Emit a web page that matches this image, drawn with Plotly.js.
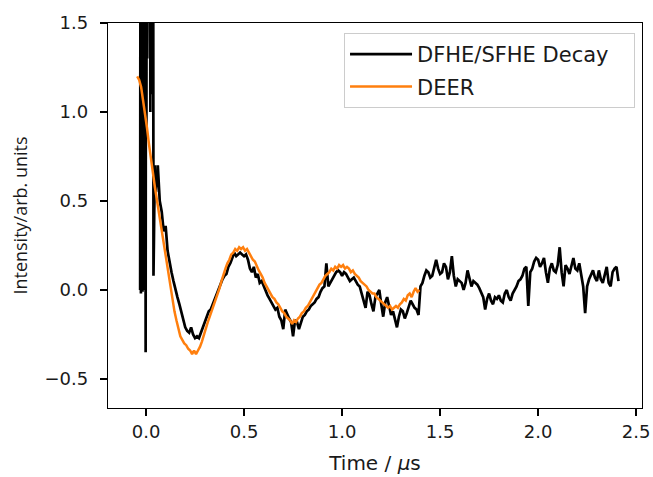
<!DOCTYPE html>
<html>
<head>
<meta charset="utf-8">
<script src="https://cdn.plot.ly/plotly-3.0.1.min.js"></script>
<style>
  html, body { margin: 0; padding: 0; background: #fff; }
  #chart { width: 653px; height: 477px; }
</style>
</head>
<body>
<div id="chart"></div>
<script>
// Echo decay around the pulse overlap, sampled every 0.002 us from -0.03 us
const burstStart = -0.03;
const burstStep = 0.002;
const burstValues = [
  0.00, 3.0, -0.02, 2.8, 0.2, 3.1, -0.01, 2.9, 0.1, 3.0,
  0.00, 2.7, 0.4, 3.2, -0.35, 2.9, 0.9, 3.1, 1.3, 3.3,
  2.6, 3.4, 3.5, 3.6, 3.4, 3.3, 1.0, 3.2, 1.1, 3.0,
  1.4, 3.1, 1.9, 2.8, 0.08, 0.25, 0.45, 0.62, 0.70, 0.60,
  0.55
];

// Echo decay trace, sampled every 0.01 us starting at 0.05 us
const decayStart = 0.05;
const decayStep = 0.01;
const decayValues = [
  0.55, 0.70,
  0.50, 0.44, 0.33, 0.36, 0.22, 0.15, 0.10, 0.05, 0.00, -0.04,
  -0.08, -0.12, -0.17, -0.21, -0.23, -0.24, -0.21, -0.25, -0.27, -0.26,
  -0.27, -0.24, -0.20, -0.17, -0.15, -0.12, -0.11, -0.08, -0.05, -0.03,
  0.00, 0.04, 0.06, 0.08, 0.09, 0.13, 0.15, 0.18, 0.21, 0.19,
  0.20, 0.21, 0.20, 0.19, 0.20, 0.17, 0.12, 0.10, 0.13, 0.07,
  0.09, 0.04, 0.05, 0.02, -0.01, -0.03, -0.05, -0.07, -0.09, -0.11,
  -0.10, -0.15, -0.17, -0.22, -0.11, -0.14, -0.16, -0.18, -0.26, -0.17,
  -0.18, -0.22, -0.19, -0.15, -0.14, -0.12, -0.11, -0.09, -0.08, -0.07,
  -0.05, -0.04, -0.01, 0.01, 0.02, 0.15, 0.02, 0.04, 0.06, 0.08,
  0.10, 0.11, 0.10, 0.08, 0.10, 0.09, 0.07, 0.05, 0.06, 0.07,
  0.05, 0.03, 0.02, -0.02, -0.06, -0.10, -0.01, -0.03, -0.08, -0.12,
  -0.04, -0.02, 0.00, -0.08, -0.15, -0.07, -0.04, -0.09, -0.14, -0.12,
  -0.17, -0.21, -0.15, -0.11, -0.12, -0.16, -0.13, -0.09, -0.06, -0.08,
  -0.10, -0.11, -0.14, 0.02, 0.04, 0.08, 0.11, 0.10, 0.07, 0.08,
  0.12, 0.17, 0.12, 0.09, 0.10, 0.15, 0.13, 0.06, 0.10, 0.19,
  0.08, 0.02, 0.06, 0.05, 0.04, 0.00, 0.04, 0.11, 0.06, 0.02,
  0.05, 0.04, 0.03, 0.01, -0.02, -0.04, -0.11, -0.05, -0.02, -0.06,
  -0.08, -0.04, -0.05, -0.03, -0.06, -0.07, -0.02, 0.00, -0.04, -0.06,
  -0.02, 0.00, 0.02, 0.05, 0.06, 0.08, 0.12, 0.13, -0.09, 0.10,
  0.12, 0.16, 0.18, 0.17, 0.13, 0.15, 0.18, 0.10, 0.04, 0.12,
  0.15, 0.11, 0.10, 0.14, 0.24, 0.10, 0.02, 0.14, 0.12, 0.09,
  0.14, 0.18, 0.12, 0.11, 0.15, 0.09, 0.02, -0.13, 0.02, 0.06,
  0.09, 0.11, 0.07, 0.05, 0.11, 0.06, 0.04, 0.09, 0.13, 0.04,
  0.02, 0.10, 0.12, 0.13, 0.05
];

// DEER trace, sampled every 0.01 us starting at -0.045 us
const deerStart = -0.045;
const deerStep = 0.01;
const deerValues = [
  1.20, 1.18, 1.14, 1.07, 0.99, 0.91, 0.82, 0.73, 0.66, 0.58,
  0.51, 0.44, 0.37, 0.30, 0.23, 0.15, 0.08, 0.01, -0.06, -0.12,
  -0.17, -0.22, -0.26, -0.28, -0.30, -0.31, -0.33, -0.34, -0.36, -0.34,
  -0.36, -0.34, -0.32, -0.29, -0.25, -0.21, -0.18, -0.15, -0.12, -0.09,
  -0.06, -0.03, 0.01, 0.05, 0.09, 0.12, 0.15, 0.17, 0.20, 0.21,
  0.23, 0.22, 0.24, 0.23, 0.24, 0.22, 0.23, 0.21, 0.19, 0.17,
  0.16, 0.13, 0.11, 0.09, 0.07, 0.04, 0.02, 0.00, -0.02, -0.04,
  -0.05, -0.07, -0.08, -0.10, -0.12, -0.13, -0.15, -0.16, -0.17, -0.19,
  -0.17, -0.18, -0.16, -0.15, -0.13, -0.12, -0.10, -0.09, -0.07, -0.05,
  -0.03, -0.01, 0.01, 0.03, 0.04, 0.06, 0.08, 0.09, 0.10, 0.12,
  0.11, 0.13, 0.12, 0.14, 0.13, 0.14, 0.12, 0.13, 0.12, 0.10,
  0.11, 0.09, 0.08, 0.07, 0.05, 0.04, 0.03, 0.02, 0.00, -0.01,
  -0.02, -0.02, -0.04, -0.05, -0.06, -0.07, -0.08, -0.09, -0.10, -0.09,
  -0.11, -0.10, -0.09, -0.10, -0.08, -0.07, -0.05, -0.06, -0.03, -0.02,
  -0.04, -0.01, 0.01, -0.01, 0.00
];

const seriesNames = ['DFHE/SFHE Decay\u00a0\u00a0\u00a0', 'DEER'];
const xTicks = [0, 0.5, 1.0, 1.5, 2.0, 2.5];
const xTickText = ['0.0', '0.5', '1.0', '1.5', '2.0', '2.5'];
const yTicks = [-0.5, 0, 0.5, 1.0, 1.5];
const yTickText = ['\u22120.5', '0.0', '0.5', '1.0', '1.5'];

const tickFont = { family: 'DejaVu Sans', size: 18, color: '#1a1a1a' };
const decayLine = { color: '#000000', width: 2.7 };

const traces = [
  {
    type: 'scatter', mode: 'lines', name: seriesNames[0], legendgroup: 'a',
    x0: decayStart, dx: decayStep, y: decayValues,
    line: decayLine
  },
  {
    type: 'scatter', mode: 'lines', name: seriesNames[0], legendgroup: 'a',
    showlegend: false,
    x0: burstStart, dx: burstStep, y: burstValues,
    line: decayLine
  },
  {
    type: 'scatter', mode: 'lines', name: seriesNames[1], legendgroup: 'b',
    x0: deerStart, dx: deerStep, y: deerValues,
    line: { color: '#ff7f0e', width: 2.5 }
  }
];

const axisBase = {
  showline: true, mirror: true, linecolor: '#000', linewidth: 1.3,
  ticks: 'outside', ticklen: 7, tickwidth: 1.3, tickcolor: '#000',
  showgrid: false, zeroline: false, tickfont: tickFont
};

const layout = {
  width: 653, height: 477,
  margin: { l: 108, r: 11, t: 23, b: 69 },
  paper_bgcolor: '#fff', plot_bgcolor: '#fff',
  showlegend: true,
  legend: {
    x: 0.442, y: 0.974, xanchor: 'left', yanchor: 'top',
    bgcolor: 'rgba(255,255,255,0.8)', bordercolor: '#cccccc', borderwidth: 1,
    font: { family: 'DejaVu Sans', size: 21, color: '#1a1a1a' },
    traceorder: 'grouped', tracegroupgap: 2, itemwidth: 62
  },
  xaxis: Object.assign({}, axisBase, {
    range: [-0.194, 2.53], tickvals: xTicks, ticktext: xTickText,
    title: { text: 'Time / <i>\u03bc</i>s', font: { family: 'DejaVu Sans', size: 20, color: '#1a1a1a' }, standoff: 15 }
  }),
  yaxis: Object.assign({}, axisBase, {
    range: [-0.663, 1.5], tickvals: yTicks, ticktext: yTickText,
    ticklabelstandoff: 8,
    title: { text: 'Intensity/arb. units', font: { family: 'Open Sans', size: 18, color: '#1a1a1a' }, standoff: 12 }
  })
};

Plotly.newPlot('chart', traces, layout, { displayModeBar: false, staticPlot: true });
</script>
</body>
</html>
